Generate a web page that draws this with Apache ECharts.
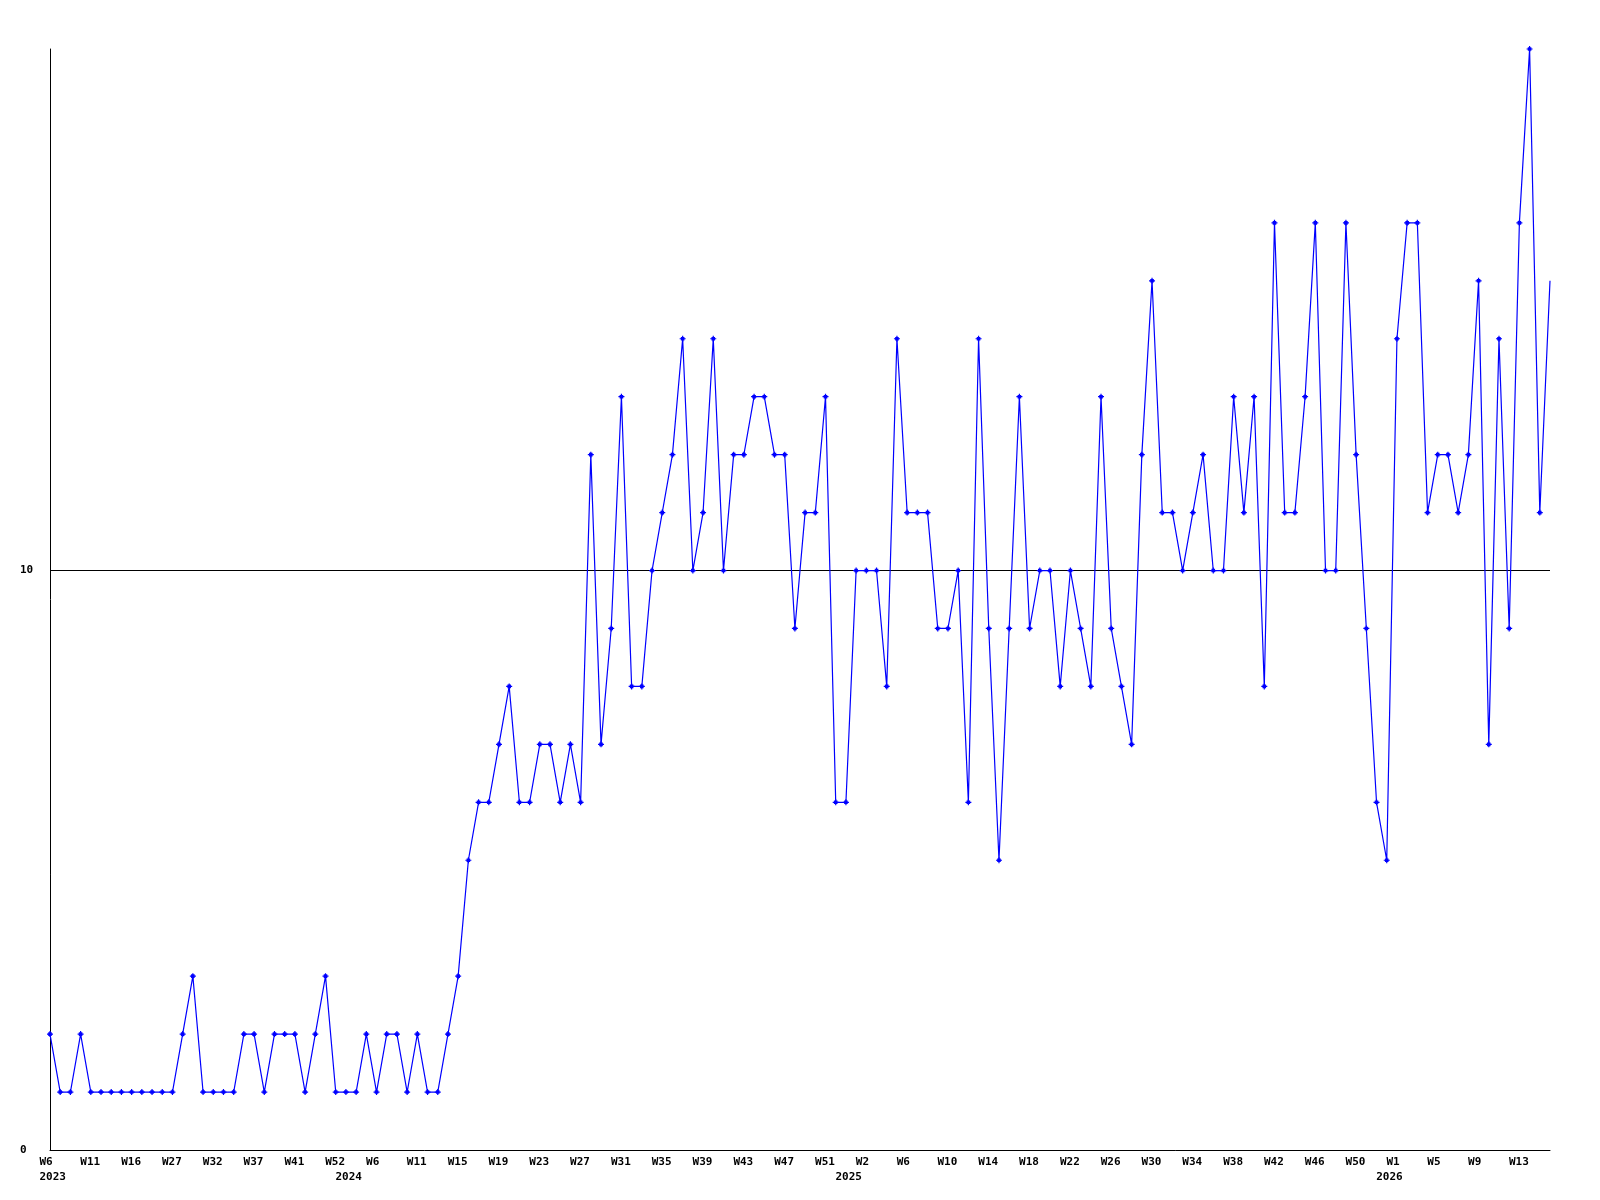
<!DOCTYPE html>
<html><head><meta charset="utf-8">
<script src="https://cdn.jsdelivr.net/npm/echarts@6/dist/echarts.min.js"></script>
<style>html,body{margin:0;padding:0;background:#fff}#c{width:1600px;height:1200px}</style>
</head><body><div id="c"></div>
<script>
const weeks2023 = [6,7,8,9,11,12,13,14,16,18,20,24,27,28,29,30,32,33,34,35,37,38,39,40,41,44,47,49,52];
const weeks2024 = [1,2,4,6,7,8,10,11,12,13,14,15,16,17,18,19,20,21,22,23,24,25,26,27,28,29,30,31,32,33,34,35,36,37,38,39,40,41,42,43,44,45,46,47,48,49,50,51,52];
const weeks2025 = [0,1,2,3,4,5,6,7,8,9,10,11,12,13,14,15,16,17,18,19,20,21,22,23,24,25,26,27,28,29,30,31,32,33,34,35,36,37,38,39,40,41,42,43,44,45,46,47,48,49,50,51,52];
const weeks2026 = [0,1,2,3,4,5,6,7,8,9,10,11,12,13,14,15,16];

const categories = [].concat(
  weeks2023.map(w => '2023-W' + w),
  weeks2024.map(w => '2024-W' + w),
  weeks2025.map(w => '2025-W' + w),
  weeks2026.map(w => '2026-W' + w)
);

const values = [
  2,1,1,2,1,1,1,1,1,1,
  1,1,1,2,3,1,1,1,1,2,
  2,1,2,2,2,1,2,3,1,1,
  1,2,1,2,2,1,2,1,1,2,
  3,5,6,6,7,8,6,6,7,7,
  6,7,6,12,7,9,13,8,8,10,
  11,12,14,10,11,14,10,12,12,13,
  13,12,12,9,11,11,13,6,6,10,
  10,10,8,14,11,11,11,9,9,10,
  6,14,9,5,9,13,9,10,10,8,
  10,9,8,13,9,8,7,12,15,11,
  11,10,11,12,10,10,13,11,13,8,
  16,11,11,13,16,10,10,16,12,9,
  6,5,14,16,16,11,12,12,11,12,
  15,7,14,9,16,19,11,15
];

const yMin = 0, yMax = 19, yStep = 10;
const refLine = 10;

const font = {fontFamily: 'DejaVu Sans Mono', fontWeight: 'bold', fontSize: 11, color: '#000', lineHeight: 11};
const yearOf = v => v.split('-')[0];
const weekOf = v => v.split('-')[1];
const plusMarker = 'path://M2,0H3V1H4V2H5V3H4V4H3V5H2V4H1V3H0V2H1V1H2Z';

const chart = echarts.init(document.getElementById('c'), null, {renderer: 'canvas'});
chart.setOption({
  animation: false,
  backgroundColor: '#fff',
  grid: [
    {left: 50, right: 50, top: 49, bottom: 50},
    {left: 39.5, right: 60.5, top: 49, bottom: 50}
  ],
  xAxis: [
    {type: 'category', data: categories, boundaryGap: false, gridIndex: 0,
     axisLine: {show: true, lineStyle: {color: '#000', width: 1}},
     axisTick: {show: false}, axisLabel: {show: false}, splitLine: {show: false}},
    {type: 'category', data: categories, boundaryGap: false, gridIndex: 1,
     axisLine: {show: false}, axisTick: {show: false}, splitLine: {show: false},
     axisLabel: Object.assign({}, font, {interval: 3, align: 'left', margin: 7, formatter: v => weekOf(v)})},
    {type: 'category', data: categories, boundaryGap: false, gridIndex: 1, position: 'bottom', offset: 15,
     axisLine: {show: false}, axisTick: {show: false}, splitLine: {show: false},
     axisLabel: Object.assign({}, font, {align: 'left', margin: 7,
       interval: (i, v) => i === 0 || yearOf(v) !== yearOf(categories[i - 1]),
       formatter: v => yearOf(v)})}
  ],
  yAxis: [
    {type: 'value', gridIndex: 0, min: yMin, max: yMax, interval: yStep,
     axisLine: {show: true, lineStyle: {color: '#000', width: 1}},
     axisTick: {show: false}, splitLine: {show: false},
     axisLabel: Object.assign({}, font, {align: 'left', margin: 30, showMaxLabel: false})},
    {type: 'value', gridIndex: 1, min: yMin, max: yMax, show: false}
  ],
  series: [{
    type: 'line', xAxisIndex: 0, yAxisIndex: 0,
    data: values.map((v, i) => i === values.length - 1 ? {value: v, symbol: 'none'} : v),
    symbol: plusMarker, symbolSize: 6, showAllSymbol: true,
    lineStyle: {color: '#0000ff', width: 1.2},
    itemStyle: {color: '#0000ff'},
    markLine: {silent: true, z: 1, symbol: 'none', label: {show: false}, animation: false,
      lineStyle: {color: '#000', width: 1, type: 'solid'},
      emphasis: {disabled: true},
      data: [{yAxis: refLine}]}
  }]
});
</script></body></html>
